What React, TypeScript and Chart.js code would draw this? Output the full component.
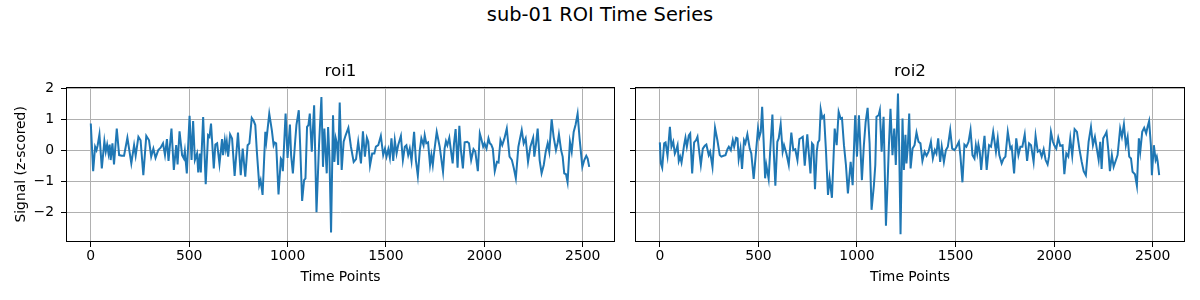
import React, { useEffect, useRef } from "react";
import { Chart, registerables } from "chart.js";

Chart.register(...registerables);

const suptitle = "sub-01 ROI Time Series";
const panelTitles = ["roi1", "roi2"];
const xLabel = "Time Points";
const yLabel = "Signal (z-scored)";
const xTickValues = [0, 500, 1000, 1500, 2000, 2500];
const yTickValues = [-2, -1, 0, 1, 2];
const xRange = [-126, 2664];
const yRange = [-2.96, 2.06];

const roi1Time = [
  0, 12, 22, 29, 35, 44, 56, 69, 76, 83, 90, 96, 101, 110, 118, 132, 144, 157, 169, 186, 206, 220, 228, 242, 253, 267, 282, 296, 307, 318,
  329, 343, 355, 367, 377, 387, 395, 410, 422, 434, 441, 451, 464, 473, 478, 488, 502, 512, 520, 529, 540, 546, 554, 559, 571, 584, 596, 603,
  611, 625, 633, 642, 654, 667, 672, 681, 686, 691, 698, 708, 718, 731, 748, 762, 772, 785, 797, 806, 818, 828, 836, 844, 856, 863, 873, 887,
  892, 898, 907, 920, 929, 934, 942, 954, 966, 971, 976, 990, 1000, 1012, 1018, 1027, 1039, 1045, 1057, 1064, 1074, 1084, 1091, 1099, 1106,
  1113, 1123, 1135, 1147, 1160, 1172, 1180, 1187, 1199, 1206, 1213, 1221, 1231, 1238, 1245, 1251, 1257, 1265, 1275, 1285, 1295, 1309, 1322,
  1336, 1348, 1359, 1373, 1383, 1393, 1403, 1410, 1419, 1430, 1441, 1449, 1461, 1474, 1486, 1495, 1503, 1512, 1520, 1528, 1537, 1545, 1554,
  1562, 1576, 1586, 1596, 1604, 1613, 1621, 1630, 1643, 1652, 1662, 1672, 1680, 1691, 1697, 1705, 1714, 1724, 1731, 1738, 1744, 1758, 1773,
  1790, 1798, 1805, 1812, 1822, 1829, 1839, 1846, 1854, 1864, 1873, 1881, 1891, 1900, 1913, 1922, 1933, 1945, 1954, 1967, 1977, 1984, 1994,
  2001, 2011, 2021, 2028, 2035, 2043, 2053, 2064, 2072, 2082, 2091, 2102, 2114, 2128, 2140, 2150, 2160, 2173, 2190, 2200, 2210, 2222, 2234,
  2248, 2254, 2263, 2271, 2281, 2291, 2302, 2312, 2322, 2330, 2342, 2352, 2364, 2373, 2379, 2390, 2398, 2406, 2415, 2423, 2435, 2444, 2454,
  2464, 2474, 2484, 2498, 2508, 2518, 2525, 2533,
];
const roi1Values = [
  0.87, -0.67, 0.12, 0.01, 0.17, 0.52, -0.58, 0.3, -0.04, 0.19, -0.1, 0.19, -0.31, 0.23, -0.45, 0.71, -0.15, -0.17, -0.17, 0.41, -0.42, 0.17,
  -0.17, 0.44, 0.33, -0.8, 0.47, 0.33, -0.2, 0.06, -0.24, 0.01, 0.09, 0.23, -0.15, 0.37, -0.34, 0.71, -0.63, 0.17, -0.45, 0.62, -0.15, -0.26,
  -0.02, -0.74, 1.12, -0.31, 0.95, -0.31, -0.1, -0.71, -0.1, -0.71, 1.08, -1.09, 0.49, 0.44, 0.87, -0.58, 0.19, 0.23, -0.44, 0.37, -0.15,
  0.33, 0.06, 0.28, -0.2, 0.52, 0.39, -0.82, 0.58, -0.8, 0.06, -0.85, 0.17, 0.23, 1.05, 0.95, 0.82, -0.04, -1.12, -0.96, -1.44, 0.6, 0.3,
  0.66, 1.19, 0.66, 0.17, 0.26, 0.23, -1.42, -0.26, -0.31, -0.67, 1.19, -0.24, 0.84, -0.15, -0.74, 0.33, 0.82, 1.3, 0.17, -1.63, -0.96,
  -0.9, 0.76, 0.82, 1.19, -0.04, 1.46, -2.0, 0.19, 1.73, -0.53, 0.71, -0.74, 0.76, -0.24, -2.65, 1.14, -0.37, 0.39, 0.23, -0.47, 1.55,
  -0.63, 0.28, 0.49, 0.73, 0.12, -0.37, -0.28, 0.28, -0.42, 0.62, -0.2, 0.41, 0.28, -0.49, -0.1, -0.1, 0.12, 0.17, 0.47, -0.15, 0.06, -0.2,
  0.04, -0.24, 0.39, -0.34, 0.33, -0.1, 0.17, 0.47, -0.31, 0.12, 0.17, -0.15, 0.06, -0.34, 0.6, -0.31, -0.82, 0.01, 0.39, 0.17, 0.49, 0.23,
  0.26, -0.47, -0.15, -0.47, -0.1, 0.6, 0.12, -0.69, 0.06, 0.3, 0.17, 0.41, 0.06, -0.42, 0.23, 0.69, -0.56, 0.8, 0.01, -0.58, 0.26, 0.28,
  0.23, -0.31, 0.04, -0.04, -0.67, 0.55, 0.39, 0.12, 0.23, 0.06, 0.39, 0.23, 0.19, 0.06, -0.67, -0.37, -0.39, 0.33, 0.17, 0.39, 0.71, -0.2,
  -0.31, -0.58, -0.9, 0.12, 0.66, 0.23, 0.39, -0.37, 0.12, 0.41, -0.2, 0.23, 0.71, -0.31, -0.74, -0.47, -0.04, 0.23, -0.04, 1.01, 0.44,
  0.01, 0.26, 0.52, 0.01, -0.2, -0.74, -0.77, -1.03, 0.28, -0.04, 0.6, 0.84, 1.19, 0.39, -0.53, -0.31, -0.17, -0.26, -0.53,
];

const roi2Time = [
  0, 5, 12, 22, 29, 39, 51, 59, 68, 76, 83, 90, 96, 103, 110, 117, 123, 130, 137, 147, 154, 164, 174, 184, 191, 198, 208, 218, 228, 236,
  248, 255, 267, 280, 292, 304, 312, 323, 333, 343, 350, 360, 370, 377, 387, 394, 400, 409, 417, 427, 434, 444, 456, 464, 476, 488, 498,
  505, 512, 519, 527, 534, 540, 552, 559, 571, 578, 586, 596, 603, 613, 623, 630, 642, 654, 667, 677, 687, 698, 708, 718, 725, 735, 748,
  755, 764, 772, 779, 787, 796, 802, 809, 816, 824, 833, 843, 853, 861, 873, 887, 897, 907, 917, 924, 934, 944, 954, 968, 978, 991, 1000,
  1010, 1025, 1035, 1044, 1054, 1064, 1074, 1086, 1093, 1099, 1110, 1116, 1125, 1135, 1147, 1157, 1162, 1170, 1180, 1189, 1197, 1208, 1214,
  1221, 1231, 1238, 1246, 1251, 1258, 1265, 1272, 1282, 1292, 1302, 1312, 1322, 1332, 1343, 1353, 1363, 1375, 1385, 1395, 1403, 1412, 1422,
  1430, 1441, 1451, 1461, 1473, 1483, 1495, 1505, 1517, 1525, 1535, 1545, 1555, 1566, 1576, 1586, 1596, 1603, 1610, 1616, 1623, 1630, 1640,
  1647, 1658, 1670, 1680, 1691, 1697, 1705, 1714, 1722, 1734, 1744, 1753, 1765, 1778, 1785, 1797, 1808, 1819, 1829, 1839, 1851, 1863, 1873,
  1883, 1896, 1906, 1917, 1927, 1937, 1947, 1957, 1967, 1974, 1984, 1994, 2001, 2011, 2021, 2031, 2043, 2052, 2062, 2072, 2082, 2092, 2104,
  2116, 2128, 2140, 2150, 2161, 2175, 2187, 2197, 2207, 2217, 2226, 2234, 2241, 2249, 2258, 2266, 2275, 2283, 2293, 2302, 2312, 2322, 2335,
  2344, 2354, 2364, 2373, 2381, 2390, 2398, 2410, 2420, 2430, 2437, 2447, 2457, 2467, 2474, 2482, 2491, 2496, 2506, 2515, 2521, 2525, 2533,
];
const roi2Values = [
  0.26, -0.42, -0.56, 0.23, 0.26, -0.17, 0.76, 0.12, 0.28, -0.1, 0.01, 0.17, -0.34, -0.2, -0.39, -0.1, 0.17, 0.41, 0.12, 0.49, 0.55, -0.74,
  0.26, 0.33, 0.44, 0.06, -0.47, 0.06, 0.15, 0.19, -0.15, -0.04, -0.53, 0.73, 0.33, -0.15, -0.2, -0.17, -0.15, 0.04, 0.12, 0.01, 0.33, 0.12,
  0.41, 0.39, -0.28, 0.06, -0.6, 0.33, 0.23, 0.52, 0.06, -0.1, -0.92, -0.04, 0.71, 0.44, 0.6, 1.41, 0.23, -0.9, -0.47, -0.92, -0.1, 1.16,
  -0.04, -1.14, 0.28, 0.39, 0.84, -0.04, 0.17, -0.1, -0.47, 0.58, 0.01, 0.04, -0.31, 0.37, 0.41, 0.44, -0.49, 0.52, -0.04, -0.74, 0.23, 0.17,
  -1.25, -0.04, 0.26, 0.33, 1.33, 1.05, 1.12, -0.04, -1.44, -0.9, -1.53, 0.71, 0.17, 1.25, 1.03, 1.05, 0.17, -0.47, -1.39, -0.37, -1.12,
  1.14, -0.2, 1.14, -0.96, 0.17, 0.92, 1.38, 0.23, -1.92, -1.12, -0.47, 1.09, 1.14, 1.3, -0.04, 1.09, -2.43, -0.74, 0.17, 1.35, -0.15, 0.71,
  -0.47, 1.84, 0.12, -2.71, 1.03, -0.63, 0.51, -0.42, 0.12, 1.19, -0.58, 0.06, 0.17, 0.58, 0.28, 0.23, -0.34, -0.04, -0.17, -0.04, 0.28,
  -0.26, 0.01, -0.1, 0.39, -0.37, 0.12, -0.37, 0.01, 0.12, 0.66, 0.06, 0.01, 0.12, 0.28, -0.2, -1.03, 0.19, 0.12, 0.28, 0.66, -0.15, -0.26,
  0.17, -0.1, 0.19, -0.04, -0.63, 0.06, 0.47, -0.63, 0.17, 0.12, 0.6, 0.33, -0.04, 0.39, -0.15, -0.42, -0.26, -0.2, 0.6, 0.06, 0.12, -0.74,
  0.39, -0.15, 0.12, 0.12, 0.52, -0.34, 0.23, 0.17, -0.37, 0.47, -0.04, 0.01, -0.2, 0.04, -0.31, -0.45, -0.2, 0.6, 0.28, 0.17, 0.06, 0.41,
  0.15, 0.17, -0.77, -0.1, -0.2, 0.39, -0.17, 0.69, 0.6, 0.06, -0.37, -0.67, -0.8, 0.28, 0.76, 0.17, 0.44, 0.04, -0.31, 0.28, -0.6, 0.39,
  0.49, 0.6, 0.01, -0.67, -0.15, -0.53, -0.34, -0.15, 0.71, 0.44, 0.84, 0.17, 0.44, -0.2, -0.26, -0.69, -0.77, -1.14, 0.39, -0.04, 0.6,
  0.73, 0.55, 0.76, 0.95, 0.17, -0.8, 0.17, -0.31, -0.2, -0.34, -0.8,
];

const FONT = "'DejaVu Sans', sans-serif";
const LINE_COLOR = "#1f77b4";

const spinePlugin = {
  id: "spines",
  afterDraw(chart: any) {
    const { ctx, chartArea } = chart;
    ctx.save();
    ctx.strokeStyle = "#000";
    ctx.lineWidth = 1;
    const l = Math.round(chartArea.left) + 0.5;
    const t = Math.round(chartArea.top) + 0.5;
    const r = Math.round(chartArea.right) - 0.5;
    const b = Math.round(chartArea.bottom) - 0.5;
    ctx.strokeRect(l, t, r - l, b - t);
    ctx.restore();
  },
};

function makeConfig(
  times: number[],
  values: number[],
  title: string,
  showYLabels: boolean,
  yAxisWidth: number,
  padRight: number
): any {
  return {
    type: "line",
    data: {
      datasets: [
        {
          data: times.map((t, i) => ({ x: t, y: values[i] })),
          borderColor: LINE_COLOR,
          borderWidth: 2,
          pointRadius: 0,
          tension: 0,
          fill: false,
        },
      ],
    },
    options: {
      animation: false,
      responsive: false,
      devicePixelRatio: 1,
      layout: { padding: { left: 0, right: padRight, top: 0, bottom: 0 } },
      plugins: {
        legend: { display: false },
        tooltip: { enabled: false },
        title: {
          display: true,
          text: title,
          fullSize: false,
          color: "#000",
          font: { family: FONT, size: 16.7, weight: "normal", lineHeight: 1.2 },
          padding: { top: 62, bottom: 4.7 },
        },
      },
      scales: {
        x: {
          type: "linear",
          min: xRange[0],
          max: xRange[1],
          afterBuildTicks: (scale: any) => {
            scale.ticks = xTickValues.map((v) => ({ value: v }));
          },
          afterFit: (scale: any) => {
            scale.height = 58;
          },
          grid: { color: "#b0b0b0", lineWidth: 1, drawTicks: true, tickLength: 5, tickColor: "#000" },
          border: { display: false },
          ticks: {
            color: "#000",
            font: { family: FONT, size: 13.9 },
            padding: 1.5,
            maxRotation: 0,
            autoSkip: false,
            callback: (v: any) => String(v),
          },
          title: {
            display: true,
            text: xLabel,
            color: "#000",
            font: { family: FONT, size: 13.9 },
            padding: { top: 0, bottom: 14.7 },
          },
        },
        y: {
          type: "linear",
          min: yRange[0],
          max: yRange[1],
          afterBuildTicks: (scale: any) => {
            scale.ticks = yTickValues.map((v) => ({ value: v }));
          },
          afterFit: (scale: any) => {
            scale.width = yAxisWidth;
          },
          grid: { color: "#b0b0b0", lineWidth: 1, drawTicks: true, tickLength: 5, tickColor: "#000" },
          border: { display: false },
          ticks: {
            display: showYLabels,
            color: "#000",
            font: { family: FONT, size: 13.9 },
            padding: 7,
            autoSkip: false,
            callback: (v: any) => String(v).replace("-", "\u2212"),
          },
          title: {
            display: showYLabels,
            text: yLabel,
            color: "#000",
            font: { family: FONT, size: 13.9 },
            padding: { top: 12.7, bottom: 0 },
          },
        },
      },
    },
    plugins: [spinePlugin],
  };
}

export default function App() {
  const ref1 = useRef<HTMLCanvasElement | null>(null);
  const ref2 = useRef<HTMLCanvasElement | null>(null);

  useEffect(() => {
    const c1 = new Chart(ref1.current as HTMLCanvasElement, makeConfig(roi1Time, roi1Values, panelTitles[0], true, 66, 5));
    const c2 = new Chart(ref2.current as HTMLCanvasElement, makeConfig(roi2Time, roi2Values, panelTitles[1], false, 15, 15));
    return () => {
      c1.destroy();
      c2.destroy();
    };
  }, []);

  return (
    <div style={{ position: "fixed", left: 0, top: 0, width: 1200, height: 300, background: "#fff" }}>
      <div
        style={{
          position: "absolute",
          left: 0,
          top: 3,
          width: 1200,
          textAlign: "center",
          fontFamily: FONT,
          fontSize: 19.4,
          lineHeight: "23px",
          color: "#000",
        }}
      >
        {suptitle}
      </div>
      <canvas ref={ref1} width={620} height={300} style={{ position: "absolute", left: 0, top: 0, width: 620, height: 300 }} />
      <canvas ref={ref2} width={580} height={300} style={{ position: "absolute", left: 620, top: 0, width: 580, height: 300 }} />
    </div>
  );
}
